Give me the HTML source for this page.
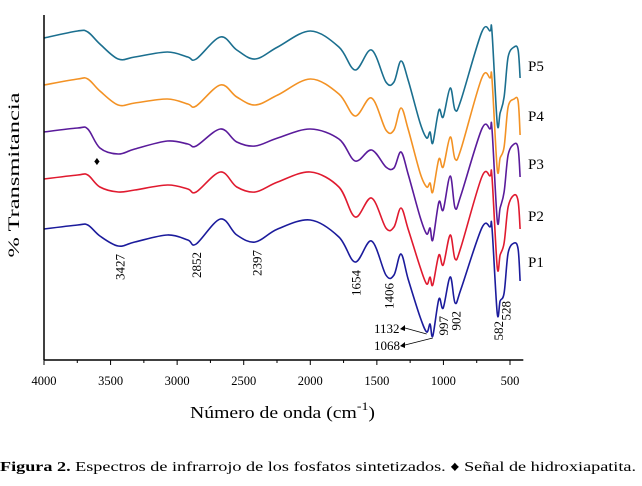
<!DOCTYPE html>
<html><head><meta charset="utf-8"><style>
body{margin:0;background:#fff;width:642px;height:486px;overflow:hidden}
svg{display:block;font-family:"Liberation Serif",serif}
</style></head><body>
<svg id="c" width="642" height="486">
<g id="plot"></g>
<text x="19" y="175" font-size="16" text-anchor="middle" textLength="165" lengthAdjust="spacingAndGlyphs" transform="rotate(-90 19 175)">% Transmitancia</text>
<text x="190" y="418" font-size="17" textLength="185" lengthAdjust="spacingAndGlyphs">Número de onda (cm<tspan dy="-8" font-size="12">-1</tspan><tspan dy="8">)</tspan></text>
<text x="0" y="471" font-size="14" textLength="636" lengthAdjust="spacingAndGlyphs"><tspan font-weight="bold">Figura 2.</tspan> Espectros de infrarrojo de los fosfatos sintetizados. ♦ Señal de hidroxiapatita.</text>
</svg>
<script>
const wavenumbers=[4000,3748,3671,3580,3443,3318,3073,2920,2857,2675,2552,2414,2245,2000,1785,1663,1540,1432,1371,1319,1265,1175,1126,1100,1080,1034,1002,949,912,868,712,650,635,596,574,544,514,469,439,424];
const seriesNames=["P5","P4","P3","P2","P1"];
const seriesColors=["#1b6f8f","#f39224","#5a1b9b","#e01a2f","#1b1b9c"];
const seriesOffsets=[0,47,94,141,191];
const depthP5=[0,-7,-6,6,21,19,14,19,21,-1,12,21,9,-7,9,32,12,44,44,23,42,85,100,94,105,72,79,50,72,62,-6,-7,-6,85,75,59,19,9,12,40];
const depthP4=[0,-6,-6,6,20,18,14,19,21,0,12,20,10,-6,9,31,13,45,45,23,44,88,102,98,107,74,82,52,74,64,-7,-7,-6,84,73,62,22,14,16,50];
const depthP3=[0,-4,-3,16,22,17,9,12,14,-3,10,14,6,-3,7,29,18,35,36,20,42,85,102,96,108,70,78,44,76,63,-3,-3,-3,88,76,60,23,12,16,45];
const depthP2=[0,-4,-4,8,13,11,6,10,13,-7,8,13,3,-7,8,38,19,49,48,29,50,88,105,98,106,76,86,56,80,68,-2,-3,-2,88,76,64,28,16,22,50];
const depthP1=[0,-4,-4,7,17,13,6,11,15,-10,6,13,0,-9,8,33,12,46,46,25,50,88,103,95,107,70,79,48,74,60,-1,-2,-1,84,72,64,24,14,20,52];
const seriesDepths=[depthP5,depthP4,depthP3,depthP2,depthP1];
const xTicks=[4000,3500,3000,2500,2000,1500,1000,500];
const peakLabels=["3427","2852","2397","1654","1406","997","902","582","528"];
const peakWn=[3427,2852,2397,1654,1406,997,902,582,528];

const NS="http://www.w3.org/2000/svg";
const svg=document.getElementById('c');
const plot=document.getElementById('plot');
const x0=44,pxPerWn=466/3500,yBase=38,axisY=360;
function xs(w){return x0+(4000-w)*pxPerWn;}
function ys(d,off){return yBase+off+d;}
function mk(tag,attrs,parent){const e=document.createElementNS(NS,tag);for(const k in attrs)e.setAttribute(k,attrs[k]);(parent||svg).appendChild(e);return e;}
function smooth(pts){
  let d='M'+pts[0][0].toFixed(1)+','+pts[0][1].toFixed(1);
  for(let i=0;i<pts.length-1;i++){
    const p0=pts[Math.max(i-1,0)],p1=pts[i],p2=pts[i+1],p3=pts[Math.min(i+2,pts.length-1)];
    const c1=[p1[0]+(p2[0]-p0[0])/6,p1[1]+(p2[1]-p0[1])/6];
    const c2=[p2[0]-(p3[0]-p1[0])/6,p2[1]-(p3[1]-p1[1])/6];
    d+='C'+c1[0].toFixed(1)+','+c1[1].toFixed(1)+' '+c2[0].toFixed(1)+','+c2[1].toFixed(1)+' '+p2[0].toFixed(1)+','+p2[1].toFixed(1);
  }
  return d;
}

let a=mk('line',{x1:x0,y1:15,x2:x0,y2:axisY,stroke:'#000','stroke-width':1.5});


a=mk('line',{x1:x0,y1:axisY,x2:xs(400),y2:axisY,stroke:'#000','stroke-width':1.5});


for(let w=4000;w>=500;w-=250){
  const t=mk('line',{x1:xs(w),y1:axisY,x2:xs(w),y2:axisY+(w%500===0?5:3),stroke:'#000','stroke-width':1});
  
  
}
xTicks.forEach(w=>{
  const t=mk('text',{x:xs(w),y:385,'text-anchor':'middle','font-size':12.5});
  t.textContent=w;
  
  
});
seriesNames.forEach((n,i)=>{
  const pts=seriesDepths[i].map((v,j)=>[xs(wavenumbers[j]),ys(v,seriesOffsets[i])]);
  const p=mk('path',{d:smooth(pts),fill:'none',stroke:seriesColors[i],'stroke-width':1.6,'stroke-linejoin':'round'},plot);
  
  
  const l=mk('text',{x:528,y:ys(seriesDepths[i][36],seriesOffsets[i])+14,'font-size':15});
  l.textContent=n;
  
  
});
const p1off=seriesOffsets[4];
peakLabels.forEach((s,i)=>{
  const w=peakWn[i];
  let m=-1e9;wavenumbers.forEach((v,j)=>{if(Math.abs(v-w)<=30&&depthP1[j]>m)m=depthP1[j];});
  if(m===-1e9){let best=1e9;wavenumbers.forEach((v,j)=>{if(Math.abs(v-w)<best){best=Math.abs(v-w);m=depthP1[j];}});}
  const x=xs(w)+4,y=ys(m,p1off)+8;
  const t=mk('text',{x:x,y:y,'font-size':13,'text-anchor':'end',transform:'rotate(-90 '+x+' '+y+')'});
  t.textContent=s;
  
  
});
[["1132",1126,103,333],["1068",1080,107,350]].forEach(([s,w,dp,ty])=>{
  const t=mk('text',{x:374,y:ty,'font-size':13});
  t.textContent=s;
  
  
  const ln=mk('line',{x1:xs(w),y1:ys(dp,p1off)+2,x2:405,y2:ty-5,stroke:'#000','stroke-width':0.8});
  
  
  const ar=mk('polygon',{points:'405,'+(ty-8)+' 405,'+(ty-2)+' 400,'+(ty-4),fill:'#000'});
  
  
});
const dm=mk('text',{x:xs(3580)-3,y:ys(depthP3[3],seriesOffsets[2])+17,'font-size':12,'text-anchor':'middle'});
dm.textContent='♦';


</script>
</body></html>
